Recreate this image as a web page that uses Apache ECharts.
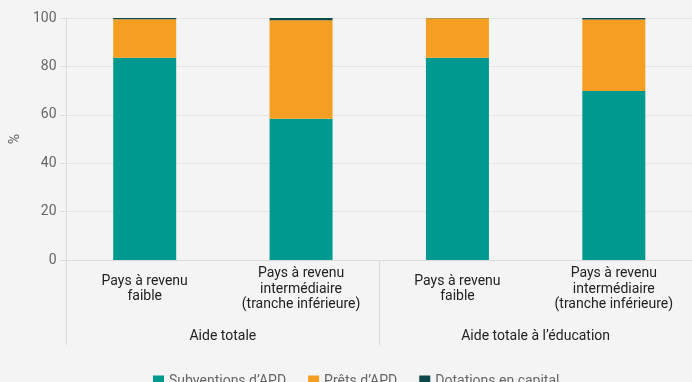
<!DOCTYPE html>
<html><head><meta charset="utf-8">
<script src="https://cdn.jsdelivr.net/npm/echarts@6/dist/echarts.min.js"></script>
<style>html,body{margin:0;padding:0;background:#f4f4f4}#c{width:692px;height:382px}</style>
</head><body><div id="c"></div>
<script>
const categories = ['Pays à revenu\nfaible', 'Pays à revenu\nintermédiaire\n(tranche inférieure)', 'Pays à revenu\nfaible', 'Pays à revenu\nintermédiaire\n(tranche inférieure)'];
const groups = ['Aide totale', 'Aide totale à l’éducation'];
const seriesNames = ['Subventions d’APD', 'Prêts d’APD', 'Dotations en capital'];
const grants = [83.6, 58.4, 83.6, 69.8];
const loans = [15.9, 40.7, 16.3, 29.6];
const equity = [0.5, 0.9, 0.1, 0.6];
const colors = ['#009990', '#f49f22', '#0e4848'];
const font = 'Roboto';
const chart = echarts.init(document.getElementById('c'));
chart.setOption({
  backgroundColor: '#f4f4f4',
  animation: false,
  textStyle: {fontFamily: font},
  grid: {left: 63, top: 18, width: 632, bottom: 122},
  legend: {
    top: 369, left: 148, itemWidth: 11, itemHeight: 11, itemGap: 22,
    icon: 'rect',
    textStyle: {fontFamily: font, fontSize: 14, color: '#666'},
    data: seriesNames
  },
  xAxis: [{
    type: 'category', data: categories, position: 'bottom',
    axisLine: {show: false}, axisTick: {show: false},
    axisLabel: {interval: 0, fontSize: 14, color: '#222', lineHeight: 15.5, margin: 29, verticalAlign: 'middle', fontFamily: font}
  }, {
    type: 'category', data: groups, position: 'bottom',
    axisLine: {show: true, lineStyle: {color: '#d9d9d9', width: 1}},
    axisTick: {show: true, length: 85, interval: 0, lineStyle: {color: '#d9d9d9'}},
    axisLabel: {interval: 0, fontSize: 14, color: '#222', margin: 69, fontFamily: font}
  }],
  yAxis: {
    type: 'value', min: 0, max: 100, interval: 20,
    name: '%', nameLocation: 'middle', nameGap: 43, nameRotate: 90,
    nameTextStyle: {fontSize: 14, color: '#666', fontFamily: font},
    axisLine: {show: true, lineStyle: {color: '#d9d9d9'}},
    axisTick: {show: true, length: 6, lineStyle: {color: '#d9d9d9'}},
    axisLabel: {fontSize: 14, color: '#666', margin: 10, fontFamily: font},
    splitLine: {lineStyle: {color: '#e4e4e4', width: 1}}
  },
  series: [
    {name: seriesNames[0], type: 'bar', stack: 'a', data: grants, barWidth: 63, itemStyle: {color: colors[0]}},
    {name: seriesNames[1], type: 'bar', stack: 'a', data: loans, barWidth: 63, itemStyle: {color: colors[1]}},
    {name: seriesNames[2], type: 'bar', stack: 'a', data: equity, barWidth: 63, itemStyle: {color: colors[2]}}
  ]
});
</script></body></html>
